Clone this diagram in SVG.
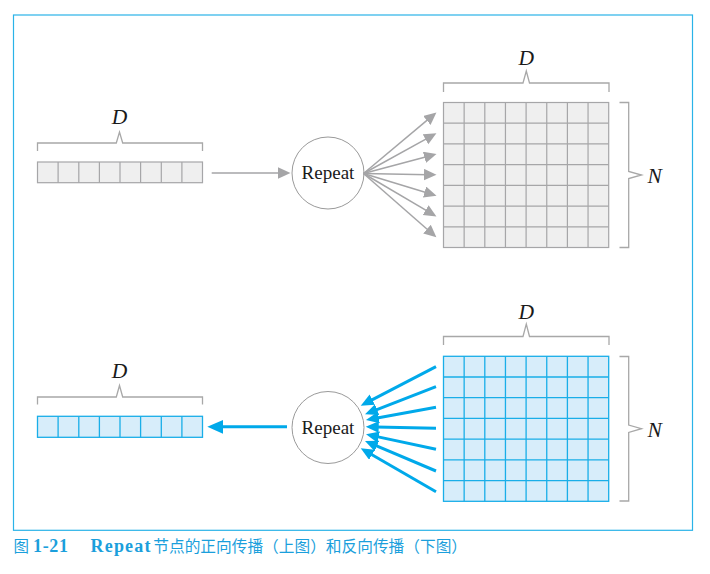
<svg xmlns="http://www.w3.org/2000/svg" width="710" height="574" viewBox="0 0 710 574">
<defs>
<style>
.frame{fill:none;stroke:#2ab3e8;stroke-width:1.2}
.gcell{fill:#efefef;stroke:#a6a6a8;stroke-width:1.2}
.gline{stroke:#a6a6a8;stroke-width:1.2}
.bcell{fill:#d7edfa;stroke:#19aee8;stroke-width:1.3}
.bline{stroke:#19aee8;stroke-width:1.3}
.brace{fill:none;stroke:#a8a8a8;stroke-width:1.3}
.circ{fill:#fff;stroke:#9a9a9a;stroke-width:1}
.lbl{font-family:"Liberation Serif",serif;font-style:italic;font-size:21.5px;fill:#1a1a1a}
.node{font-family:"Liberation Serif",serif;font-size:19px;fill:#1a1a1a;text-anchor:middle}
.garrow{stroke:#a5a5a7;stroke-width:1.5;fill:none;marker-end:url(#gh)}
.barrow{stroke:#00a9ea;stroke-width:3;fill:none;marker-end:url(#bh)}
.cap{fill:#1b9fdc}
</style>
<marker id="gh" markerUnits="userSpaceOnUse" markerWidth="13" markerHeight="12" refX="4" refY="5.75" orient="auto">
<path d="M0,0 L12.5,5.75 L0,11.5 z" fill="#a5a5a7"/>
</marker>
<marker id="bh" markerUnits="userSpaceOnUse" markerWidth="14" markerHeight="12" refX="3" refY="5.75" orient="auto">
<path d="M0,0 L13,5.75 L0,11.5 z" fill="#00a9ea"/>
</marker>
<marker id="bbh" markerUnits="userSpaceOnUse" markerWidth="17" markerHeight="15" refX="4" refY="7" orient="auto">
<path d="M0,0 L16,7 L0,14 z" fill="#00a9ea"/>
</marker>
</defs>

<rect class="frame" x="13.5" y="15" width="679" height="515.3"/>

<!-- top: input vector -->
<g id="top-vector">
<rect class="gcell" x="37.5" y="162" width="165" height="20.7"/>
<path class="gline" d="M58.1,162V182.7M78.8,162V182.7M99.4,162V182.7M120,162V182.7M140.6,162V182.7M161.3,162V182.7M181.9,162V182.7"/>
<path class="brace" d="M37.5,151V143H116.3L119.5,132L122.7,143H202.5V151"/>
<text class="lbl" x="119.5" y="124" text-anchor="middle">D</text>
</g>

<g id="top-repeat">
<circle class="circ" cx="328" cy="173" r="36"/>
<text class="node" x="328" y="179">Repeat</text>
</g>

<g id="top-matrix">
<rect class="gcell" x="443.5" y="102.5" width="165.2" height="145"/>
<path class="gline" d="M464.15,102.5V247.5M484.8,102.5V247.5M505.45,102.5V247.5M526.1,102.5V247.5M546.75,102.5V247.5M567.4,102.5V247.5M588.05,102.5V247.5"/>
<path class="gline" d="M443.5,123.2H608.7M443.5,143.9H608.7M443.5,164.6H608.7M443.5,185.4H608.7M443.5,206.1H608.7M443.5,226.8H608.7"/>
<path class="brace" d="M443.5,92V83H523L526.3,71L529.5,83H609V92"/>
<text class="lbl" x="526.3" y="64.5" text-anchor="middle">D</text>
<path class="brace" d="M619.5,102.5H628.7V171.5L641.5,175L628.7,178.5V247.5H619.5"/>
<text class="lbl" x="647.5" y="183">N</text>
</g>

<!-- bottom -->
<g id="bottom-vector">
<rect class="bcell" x="37.5" y="416.3" width="165" height="21"/>
<path class="bline" d="M58.1,416.3V437.3M78.8,416.3V437.3M99.4,416.3V437.3M120,416.3V437.3M140.6,416.3V437.3M161.3,416.3V437.3M181.9,416.3V437.3"/>
<path class="brace" d="M37.5,404.5V397H116.3L119.5,385.5L122.7,397H202.5V404.5"/>
<text class="lbl" x="119.5" y="378" text-anchor="middle">D</text>
</g>

<g id="bottom-repeat">
<circle class="circ" cx="328" cy="427.5" r="36"/>
<text class="node" x="328" y="433.5">Repeat</text>
</g>

<g id="bottom-matrix">
<rect class="bcell" x="443.5" y="356.3" width="165.2" height="145"/>
<path class="bline" d="M464.15,356.3V501.3M484.8,356.3V501.3M505.45,356.3V501.3M526.1,356.3V501.3M546.75,356.3V501.3M567.4,356.3V501.3M588.05,356.3V501.3"/>
<path class="bline" d="M443.5,377H608.7M443.5,397.7H608.7M443.5,418.4H608.7M443.5,439.2H608.7M443.5,459.9H608.7M443.5,480.6H608.7"/>
<path class="brace" d="M443.5,345V336.5H523L526.3,324L529.5,336.5H609V345"/>
<text class="lbl" x="526.3" y="318.5" text-anchor="middle">D</text>
<path class="brace" d="M619.5,356.5H628.7V425L641.5,428.7L628.7,432.4V501H619.5"/>
<text class="lbl" x="647.5" y="436.5">N</text>
</g>

<g id="connectors">
<line class="garrow" x1="211.7" y1="173" x2="282" y2="173"/>
<line class="garrow" x1="363.5" y1="173.5" x2="429.9" y2="117.9"/>
<line class="garrow" x1="363.5" y1="173.5" x2="429.0" y2="137.4"/>
<line class="garrow" x1="363.5" y1="173.5" x2="428.3" y2="156.3"/>
<line class="garrow" x1="363.5" y1="173.5" x2="428.0" y2="174.7"/>
<line class="garrow" x1="363.5" y1="173.5" x2="428.4" y2="193.3"/>
<line class="garrow" x1="363.5" y1="173.5" x2="429.1" y2="212.2"/>
<line class="garrow" x1="363.5" y1="173.5" x2="430.0" y2="231.7"/>

<line class="barrow" x1="436" y1="366.7" x2="369.6" y2="401.1"/>
<line class="barrow" x1="436" y1="386.7" x2="374.3" y2="410.7"/>
<line class="barrow" x1="436" y1="407.3" x2="375.8" y2="418.2"/>
<line class="barrow" x1="436" y1="428.3" x2="375.7" y2="426.9"/>
<line class="barrow" x1="436" y1="449.3" x2="375.8" y2="436.4"/>
<line class="barrow" x1="436" y1="471" x2="374.2" y2="444.9"/>
<line class="barrow" x1="436" y1="491.7" x2="369.4" y2="453.3"/>
<line x1="287" y1="426.8" x2="219.3" y2="426.8" stroke="#00a9ea" stroke-width="3" marker-end="url(#bbh)"/>
</g>

<g id="caption" class="cap">
<text x="13.5" y="552" font-family="'Noto Sans CJK SC',sans-serif" font-size="15.5">图</text>
<text x="33" y="552" font-family="'Liberation Serif',serif" font-weight="bold" font-size="18" textLength="35" lengthAdjust="spacing">1-21</text>
<text x="90.5" y="552" font-family="'Liberation Serif',serif" font-weight="bold" font-size="18" textLength="60" lengthAdjust="spacing">Repeat</text>
<text x="153.3" y="552" font-family="'Noto Sans CJK SC',sans-serif" font-size="15.7">节点的正向传播（上图）和反向传播（下图）</text>
</g>
</svg>
